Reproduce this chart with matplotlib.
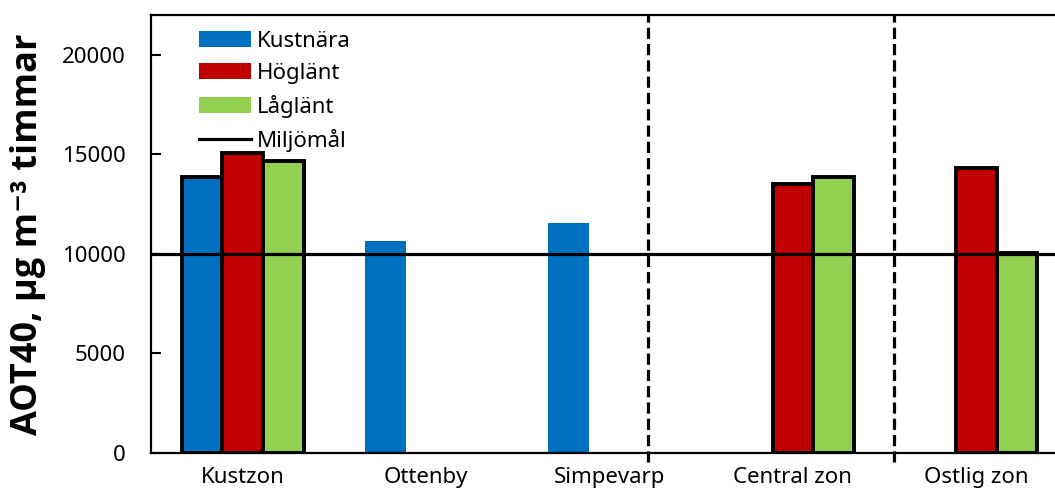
import numpy as np
import matplotlib
matplotlib.use('Agg')
from matplotlib import pyplot as plt
from matplotlib.patches import Patch
from matplotlib.lines import Line2D

plt.rcParams['font.family'] = ['Noto Sans', 'DejaVu Sans']

categories = ['Kustzon', 'Ottenby', 'Simpevarp', 'Central zon', 'Ostlig zon']
kustnara = [13850, 10650, 11550, np.nan, np.nan]
hoglant = [15050, np.nan, np.nan, 13500, 14300]
laglant = [14650, np.nan, np.nan, 13850, 10050]
kustnara_edges = ['black', 'none', 'none', 'none', 'none']
miljomal = 10000
separators = [2.21, 3.55]
y_ticks = [0, 5000, 10000, 15000, 20000]

blue = '#0070C0'
red = '#C00000'
green = '#92D050'

font_size = 16
edge_width = 2.8

fig = plt.figure(figsize=(10.55, 4.98), dpi=100)
ax = fig.add_axes([151 / 1055, 45 / 498, 917 / 1055, 438 / 498])

x = np.arange(len(categories))
width = 0.222

ax.bar(x - width, kustnara, width, color=blue, edgecolor=kustnara_edges, linewidth=edge_width, zorder=2)
ax.bar(x, hoglant, width, color=red, edgecolor='black', linewidth=edge_width, zorder=2)
ax.bar(x + width, laglant, width, color=green, edgecolor='black', linewidth=edge_width, zorder=2)
ax.axhline(miljomal, color='black', linewidth=2.3, zorder=3)

for s in separators:
    ax.axvline(s, ymin=-0.02, ymax=1, color='black', linewidth=2.3,
               linestyle=(0, (3.5, 1.6)), clip_on=False, zorder=3)

ax.set_xlim(-0.5, len(categories) - 0.5)
ax.set_ylim(0, 22000)
ax.set_yticks(y_ticks)
ax.set_yticklabels([str(t) for t in y_ticks], fontsize=font_size)
ax.set_xticks(x)
ax.set_xticklabels(categories, fontsize=font_size)
ax.tick_params(axis='x', length=0, pad=10)
ax.tick_params(axis='y', direction='in', length=7, width=1.5, pad=18)

for spine in ax.spines.values():
    spine.set_linewidth(1.6)
    spine.set_color('black')

ax.set_ylabel('AOT40, µg m⁻³ timmar', fontsize=26, fontweight='bold',
              family=['Open Sans', 'DejaVu Sans'])
ax.yaxis.set_label_coords(-0.114, 0.5)

handles = [Patch(facecolor=blue, label='Kustnära'),
           Patch(facecolor=red, label='Höglänt'),
           Patch(facecolor=green, label='Låglänt'),
           Line2D([], [], color='black', linewidth=2.3, label='Miljömål')]
ax.legend(handles=handles, loc='upper left', bbox_to_anchor=(0.035, 1.0), frameon=False,
          fontsize=font_size, handlelength=2.35, handleheight=0.7,
          handletextpad=0.25, labelspacing=0.5, borderpad=0.2)

plt.savefig('out.png', dpi=100)
plt.close()
